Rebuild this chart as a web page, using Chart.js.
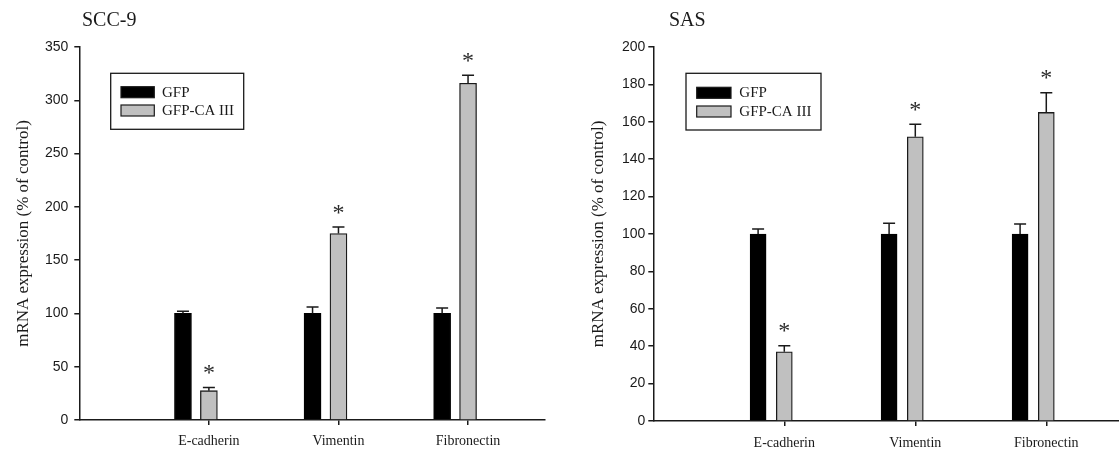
<!DOCTYPE html>
<html>
<head>
<meta charset="utf-8">
<script src="https://cdn.jsdelivr.net/npm/chart.js@4.4.1/dist/chart.umd.min.js"></script>
<style>
  body { margin: 0; background: #fff; }
  canvas { position: absolute; top: 0; }
</style>
</head>
<body>
<canvas id="scc9Chart" width="560" height="453" style="left:0"></canvas>
<canvas id="sasChart" width="559" height="453" style="left:560px"></canvas>
<script>
const genes = ['E-cadherin', 'Vimentin', 'Fibronectin'];
const seriesNames = ['GFP', 'GFP-CA III'];
const yTitle = 'mRNA expression (% of control)';

// SCC-9 panel
const scc9Gfp = [100, 100, 100];
const scc9GfpErr = [2, 6, 5];
const scc9Ca = [27.5, 175, 316];
const scc9CaErr = [3, 6, 7.5];
const scc9Sig = [true, true, true];
const scc9YTicks = [0, 50, 100, 150, 200, 250, 300, 350];

// SAS panel
const sasGfp = [100, 100, 100];
const sasGfpErr = [2.7, 5.7, 5.3];
const sasCa = [37, 152, 165];
const sasCaErr = [3.3, 6.7, 10.5];
const sasSig = [true, true, true];
const sasYTicks = [0, 20, 40, 60, 80, 100, 120, 140, 160, 180, 200];

const ink = '#1a1a1a';

// error bars (upper only) and significance stars
const errorBarPlugin = {
  id: 'errorBars',
  afterDatasetsDraw(chart) {
    const ctx = chart.ctx;
    const y = chart.scales.y;
    ctx.save();
    chart.data.datasets.forEach((ds, di) => {
      const meta = chart.getDatasetMeta(di);
      meta.data.forEach((bar, i) => {
        const top = y.getPixelForValue(ds.data[i].y + ds.errors[i]);
        ctx.strokeStyle = ink;
        ctx.lineWidth = 1.5;
        ctx.beginPath();
        ctx.moveTo(bar.x, bar.y);
        ctx.lineTo(bar.x, top);
        ctx.moveTo(bar.x - 6, top);
        ctx.lineTo(bar.x + 6, top);
        ctx.stroke();
        if (ds.stars && ds.stars[i]) {
          ctx.font = '24px "Liberation Serif"';
          ctx.fillStyle = '#2a2a2a';
          ctx.textAlign = 'center';
          const m = ctx.measureText('*');
          const cy = top - 18;
          ctx.textBaseline = 'alphabetic';
          ctx.fillText('*', bar.x, cy - (m.actualBoundingBoxDescent - m.actualBoundingBoxAscent) / 2);
        }
      });
    });
    ctx.restore();
  }
};

// panel title and boxed legend
const panelTextPlugin = {
  id: 'panelText',
  afterDraw(chart, args, opts) {
    const ctx = chart.ctx;
    ctx.save();
    ctx.fillStyle = ink;
    ctx.font = '20px "Liberation Serif"';
    ctx.textBaseline = 'middle';
    ctx.textAlign = 'left';
    ctx.fillText(opts.title, opts.titleX, 21);

    const b = opts.legendBox;
    ctx.strokeStyle = ink;
    ctx.lineWidth = 1.3;
    ctx.strokeRect(b.x, b.y, b.w, b.h);
    ctx.font = '15px "Liberation Serif"';
    chart.data.datasets.forEach((ds, di) => {
      const sy = b.y + b.rows[di];
      ctx.fillStyle = ds.backgroundColor;
      ctx.fillRect(b.x + b.swX, sy, b.swW, 11);
      ctx.strokeStyle = ink;
      ctx.lineWidth = 1.2;
      ctx.strokeRect(b.x + b.swX, sy, b.swW, 11);
      ctx.fillStyle = ink;
      ctx.fillText(ds.label, b.x + b.textX, sy + 6);
    });
    ctx.restore();
  }
};

function makePanel(id, p) {
  const axisGrid = { drawOnChartArea: false, tickLength: 5, color: ink, lineWidth: 1.5, offset: false };
  const axisBorder = { color: ink, width: 1.5 };
  return new Chart(document.getElementById(id), {
    type: 'bar',
    data: {
      datasets: [
        {
          label: seriesNames[0],
          data: p.gfp.map((v, i) => ({ x: i - 0.2, y: v })),
          errors: p.gfpErr,
          backgroundColor: '#000000',
          borderColor: '#000000',
          borderWidth: 1,
          barThickness: p.barWidth,
          grouped: false,
        },
        {
          label: seriesNames[1],
          data: p.ca.map((v, i) => ({ x: i, y: v })),
          errors: p.caErr,
          stars: p.sig,
          backgroundColor: '#c0c0c0',
          borderColor: ink,
          borderWidth: 1.3,
          barThickness: p.barWidth,
          grouped: false,
        },
      ],
    },
    options: {
      responsive: false,
      animation: false,
      devicePixelRatio: 1,
      layout: { padding: { top: 47, right: p.padRight, left: 0, bottom: 0 } },
      plugins: {
        legend: { display: false },
        tooltip: { enabled: false },
        panelText: { title: p.title, titleX: p.titleX, legendBox: p.legendBox },
      },
      scales: {
        x: {
          type: 'linear',
          offset: false,
          min: -1,
          max: p.xMax,
          afterBuildTicks: (s) => { s.ticks = genes.map((g, i) => ({ value: i })); },
          afterFit: (s) => { s.height = p.xAxisHeight; },
          ticks: {
            callback: (v) => genes[v],
            font: { family: 'Liberation Serif', size: 14 },
            color: ink,
            padding: p.xTickPad,
            maxRotation: 0,
            autoSkip: false,
          },
          grid: axisGrid,
          border: axisBorder,
        },
        y: {
          min: 0,
          max: p.yTicks[p.yTicks.length - 1],
          afterBuildTicks: (s) => { s.ticks = p.yTicks.map((v) => ({ value: v })); },
          afterFit: (s) => { s.width = p.yAxisWidth; },
          ticks: {
            font: { family: 'Liberation Sans', size: 14 },
            color: ink,
            padding: p.yTickPad,
          },
          grid: axisGrid,
          border: axisBorder,
          title: {
            display: true,
            text: yTitle,
            font: { family: 'Liberation Serif', size: 17 },
            color: ink,
            padding: { top: p.yTitlePad, bottom: 0 },
          },
        },
      },
    },
    plugins: [errorBarPlugin, panelTextPlugin],
  });
}

makePanel('scc9Chart', {
  title: 'SCC-9', titleX: 82,
  gfp: scc9Gfp, gfpErr: scc9GfpErr, ca: scc9Ca, caErr: scc9CaErr, sig: scc9Sig,
  yTicks: scc9YTicks,
  barWidth: 17, xMax: 2.59, padRight: 15.5,
  xAxisHeight: 33, yAxisWidth: 79.3, xTickPad: 8, yTickPad: 6, yTitlePad: 13.8,
  legendBox: { x: 110.7, y: 73.3, w: 133, h: 56, swX: 10.3, swW: 33.3, textX: 51.3, rows: [13.4, 31.7] },
});

makePanel('sasChart', {
  title: 'SAS', titleX: 109,
  gfp: sasGfp, gfpErr: sasGfpErr, ca: sasCa, caErr: sasCaErr, sig: sasSig,
  yTicks: sasYTicks,
  barWidth: 16, xMax: 2.555, padRight: 0,
  xAxisHeight: 32, yAxisWidth: 93.3, xTickPad: 9, yTickPad: 3, yTitlePad: 28.8,
  legendBox: { x: 126, y: 73.3, w: 135, h: 56.7, swX: 10.7, swW: 34.3, textX: 53.3, rows: [14, 32.7] },
});
</script>
</body>
</html>
